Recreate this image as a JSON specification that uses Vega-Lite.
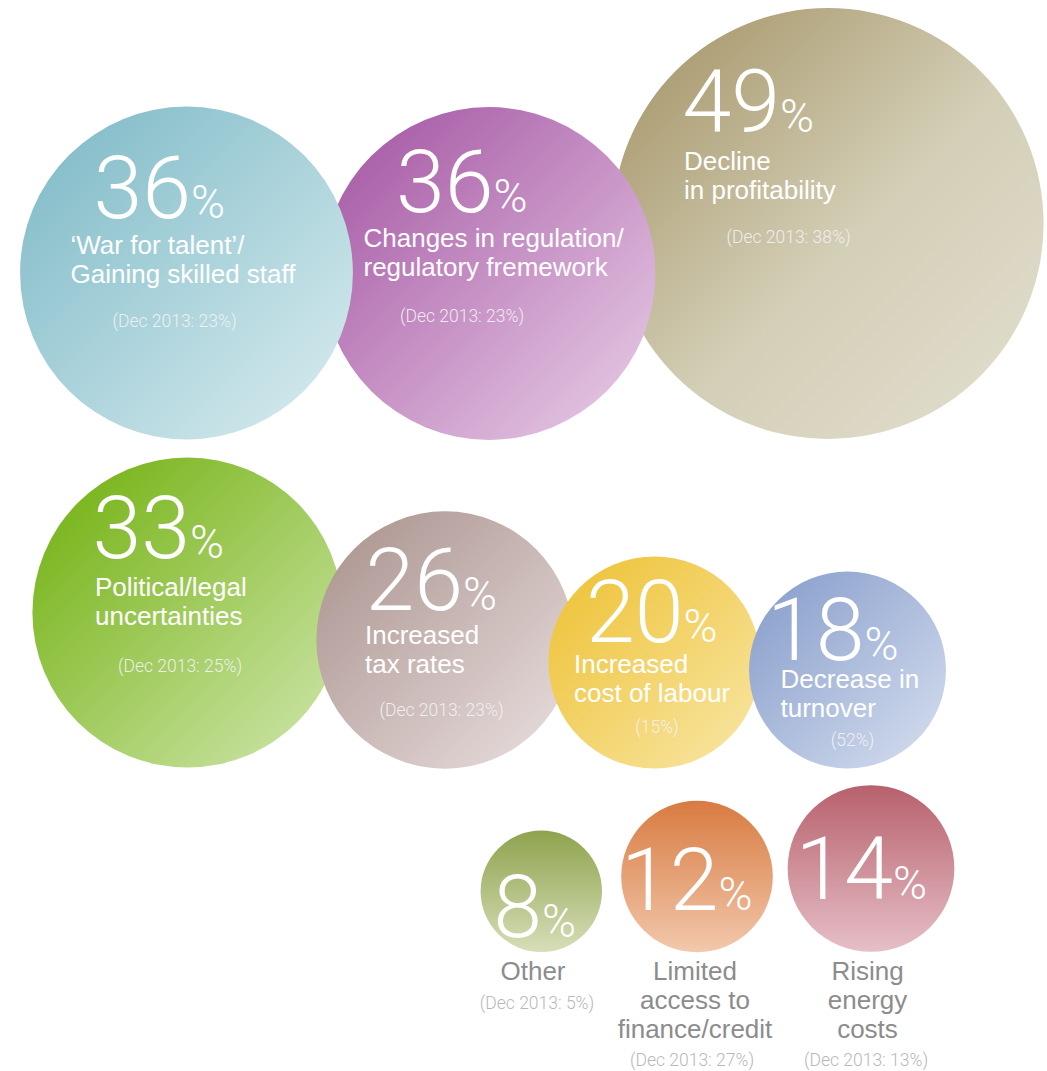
{
  "$schema": "https://vega.github.io/schema/vega-lite/v6.json",
  "width": 1047,
  "height": 1071,
  "padding": 0,
  "autosize": {"type": "fit", "contains": "padding"},
  "background": "white",
  "config": {"view": {"stroke": null}},
  "data": {
    "values": [
      {"id": "tan", "value": 49, "label": "Decline\nin profitability", "prev": "(Dec 2013: 38%)", "place": "inside", "cx": 828, "cy": 223.5, "nx": 780, "ny": 131.5, "lx": 684, "ly": 170, "px": 788.5, "py": 243},
      {"id": "purple", "value": 36, "label": "Changes in regulation/\nregulatory fremework", "prev": "(Dec 2013: 23%)", "place": "inside", "cx": 489, "cy": 273.5, "nx": 493.5, "ny": 211.5, "lx": 363.5, "ly": 247, "px": 462, "py": 322},
      {"id": "teal", "value": 36, "label": "‘War for talent’/\nGaining skilled staff", "prev": "(Dec 2013: 23%)", "place": "inside", "cx": 186.5, "cy": 273, "nx": 191, "ny": 217.5, "lx": 70.5, "ly": 254, "px": 174.5, "py": 327},
      {"id": "green", "value": 33, "label": "Political/legal\nuncertainties", "prev": "(Dec 2013: 25%)", "place": "inside", "cx": 187.5, "cy": 612.5, "nx": 190, "ny": 558, "lx": 95, "ly": 596, "px": 180, "py": 672},
      {"id": "mauve", "value": 26, "label": "Increased\ntax rates", "prev": "(Dec 2013: 23%)", "place": "inside", "cx": 445, "cy": 640, "nx": 463, "ny": 610, "lx": 365, "ly": 644, "px": 441.5, "py": 716},
      {"id": "yellow", "value": 20, "label": "Increased\ncost of labour", "prev": "(15%)", "place": "inside", "cx": 654.5, "cy": 662.5, "nx": 683.5, "ny": 641.5, "lx": 574, "ly": 673, "px": 657, "py": 733},
      {"id": "blue", "value": 18, "label": "Decrease in\nturnover", "prev": "(52%)", "place": "inside", "cx": 847.5, "cy": 670, "nx": 864.5, "ny": 660, "lx": 780.5, "ly": 688, "px": 852.5, "py": 746},
      {"id": "olive", "value": 8, "label": "Other", "prev": "(Dec 2013: 5%)", "place": "below", "cx": 541.3, "cy": 891.3, "nx": 542, "ny": 936.5, "lx": 533, "ly": 980, "px": 537, "py": 1009},
      {"id": "orange", "value": 12, "label": "Limited\naccess to\nfinance/credit", "prev": "(Dec 2013: 27%)", "place": "below", "cx": 697, "cy": 876.5, "nx": 718.5, "ny": 910, "lx": 695, "ly": 980, "px": 692, "py": 1066},
      {"id": "red", "value": 14, "label": "Rising\nenergy\ncosts", "prev": "(Dec 2013: 13%)", "place": "below", "cx": 871, "cy": 868.5, "nx": 893, "ny": 899, "lx": 867.5, "ly": 980, "px": 866, "py": 1066}
    ]
  },
  "layer": [
    {
      "encoding": {
        "x": {"field": "cx", "type": "quantitative", "scale": {"domain": [0, 1047], "nice": false, "zero": false}, "axis": null},
        "y": {"field": "cy", "type": "quantitative", "scale": {"domain": [0, 1071], "nice": false, "zero": false, "reverse": true}, "axis": null},
        "radius": {"field": "value", "type": "quantitative", "stack": null, "scale": {"type": "linear", "zero": false, "domain": [0, 49], "range": [30.5, 215.5]}, "legend": null},
        "radius2": {"value": 0}
      },
      "layer": [
        {"transform": [{"filter": "datum.id === 'tan'"}], "mark": {"type": "arc", "theta": 0, "theta2": 6.2832, "fill": {"gradient": "linear", "x1": 0.1, "y1": 0.1, "x2": 0.9, "y2": 0.9, "stops": [{"offset": 0, "color": "#aa9b70"}, {"offset": 0.55, "color": "#d3ceb6"}, {"offset": 1, "color": "#dfdccb"}]}}},
        {"transform": [{"filter": "datum.id === 'purple'"}], "mark": {"type": "arc", "theta": 0, "theta2": 6.2832, "fill": {"gradient": "linear", "x1": 0.1, "y1": 0.1, "x2": 0.9, "y2": 0.9, "stops": [{"offset": 0, "color": "#a85da7"}, {"offset": 1, "color": "#e3c4e1"}]}}},
        {"transform": [{"filter": "datum.id === 'teal'"}], "mark": {"type": "arc", "theta": 0, "theta2": 6.2832, "fill": {"gradient": "linear", "x1": 0.1, "y1": 0.1, "x2": 0.9, "y2": 0.9, "stops": [{"offset": 0, "color": "#84bdc9"}, {"offset": 1, "color": "#d1e8ec"}]}}},
        {"transform": [{"filter": "datum.id === 'green'"}], "mark": {"type": "arc", "theta": 0, "theta2": 6.2832, "fill": {"gradient": "linear", "x1": 0.1, "y1": 0.1, "x2": 0.9, "y2": 0.9, "stops": [{"offset": 0, "color": "#78b41a"}, {"offset": 1, "color": "#c8e2a0"}]}}},
        {"transform": [{"filter": "datum.id === 'mauve'"}], "mark": {"type": "arc", "theta": 0, "theta2": 6.2832, "fill": {"gradient": "linear", "x1": 0.1, "y1": 0.1, "x2": 0.9, "y2": 0.9, "stops": [{"offset": 0, "color": "#ae9893"}, {"offset": 1, "color": "#e4d9d9"}]}}},
        {"transform": [{"filter": "datum.id === 'yellow'"}], "mark": {"type": "arc", "theta": 0, "theta2": 6.2832, "fill": {"gradient": "linear", "x1": 0.1, "y1": 0.1, "x2": 0.9, "y2": 0.9, "stops": [{"offset": 0, "color": "#efc43c"}, {"offset": 1, "color": "#f7e39c"}]}}},
        {"transform": [{"filter": "datum.id === 'blue'"}], "mark": {"type": "arc", "theta": 0, "theta2": 6.2832, "fill": {"gradient": "linear", "x1": 0.1, "y1": 0.1, "x2": 0.9, "y2": 0.9, "stops": [{"offset": 0, "color": "#8ca1cd"}, {"offset": 1, "color": "#cfd9ec"}]}}},
        {"transform": [{"filter": "datum.id === 'olive'"}], "mark": {"type": "arc", "theta": 0, "theta2": 6.2832, "fill": {"gradient": "linear", "x1": 0.5, "y1": 0, "x2": 0.5, "y2": 1, "stops": [{"offset": 0, "color": "#8fa34e"}, {"offset": 1, "color": "#d6deb8"}]}}},
        {"transform": [{"filter": "datum.id === 'orange'"}], "mark": {"type": "arc", "theta": 0, "theta2": 6.2832, "fill": {"gradient": "linear", "x1": 0.5, "y1": 0, "x2": 0.5, "y2": 1, "stops": [{"offset": 0, "color": "#d87b41"}, {"offset": 1, "color": "#f2c8ac"}]}}},
        {"transform": [{"filter": "datum.id === 'red'"}], "mark": {"type": "arc", "theta": 0, "theta2": 6.2832, "fill": {"gradient": "linear", "x1": 0.5, "y1": 0, "x2": 0.5, "y2": 1, "stops": [{"offset": 0, "color": "#b7616c"}, {"offset": 1, "color": "#e6bfc7"}]}}}
      ]
    },
    {
      "mark": {"type": "text", "align": "right", "baseline": "alphabetic", "font": "Roboto", "fontWeight": 300, "fontSize": 88, "fill": "#ffffff"},
      "encoding": {
        "x": {"field": "nx", "type": "quantitative", "scale": {"domain": [0, 1047], "nice": false, "zero": false}, "axis": null},
        "y": {"field": "ny", "type": "quantitative", "scale": {"domain": [0, 1071], "nice": false, "zero": false, "reverse": true}, "axis": null},
        "text": {"field": "value", "type": "quantitative", "format": "d"}
      }
    },
    {
      "mark": {"type": "text", "align": "left", "baseline": "alphabetic", "font": "Roboto", "fontWeight": 300, "fontSize": 46, "fill": "#ffffff"},
      "encoding": {
        "x": {"field": "nx", "type": "quantitative", "scale": {"domain": [0, 1047], "nice": false, "zero": false}, "axis": null},
        "y": {"field": "ny", "type": "quantitative", "scale": {"domain": [0, 1071], "nice": false, "zero": false, "reverse": true}, "axis": null},
        "text": {"value": "%"}
      }
    },
    {
      "transform": [{"filter": "datum.place === 'inside'"}],
      "mark": {"type": "text", "align": "left", "baseline": "alphabetic", "font": "Liberation Sans", "fontSize": 26, "lineHeight": 29, "lineBreak": "\n", "fill": "#ffffff"},
      "encoding": {
        "x": {"field": "lx", "type": "quantitative", "scale": {"domain": [0, 1047], "nice": false, "zero": false}, "axis": null},
        "y": {"field": "ly", "type": "quantitative", "scale": {"domain": [0, 1071], "nice": false, "zero": false, "reverse": true}, "axis": null},
        "text": {"field": "label", "type": "nominal"}
      }
    },
    {
      "transform": [{"filter": "datum.place === 'below'"}],
      "mark": {"type": "text", "align": "center", "baseline": "alphabetic", "font": "Liberation Sans", "fontSize": 26, "lineHeight": 29, "lineBreak": "\n", "fill": "#8c8c8c"},
      "encoding": {
        "x": {"field": "lx", "type": "quantitative", "scale": {"domain": [0, 1047], "nice": false, "zero": false}, "axis": null},
        "y": {"field": "ly", "type": "quantitative", "scale": {"domain": [0, 1071], "nice": false, "zero": false, "reverse": true}, "axis": null},
        "text": {"field": "label", "type": "nominal"}
      }
    },
    {
      "mark": {"type": "text", "align": "center", "baseline": "alphabetic", "font": "Roboto", "fontWeight": 300, "fontSize": 17.5},
      "encoding": {
        "x": {"field": "px", "type": "quantitative", "scale": {"domain": [0, 1047], "nice": false, "zero": false}, "axis": null},
        "y": {"field": "py", "type": "quantitative", "scale": {"domain": [0, 1071], "nice": false, "zero": false, "reverse": true}, "axis": null},
        "text": {"field": "prev", "type": "nominal"},
        "color": {"condition": {"test": "datum.place === 'below'", "value": "#b8b8b8"}, "value": "#f4f4f4"},
        "opacity": {"condition": {"test": "datum.place === 'below'", "value": 1}, "value": 0.9}
      }
    }
  ]
}
